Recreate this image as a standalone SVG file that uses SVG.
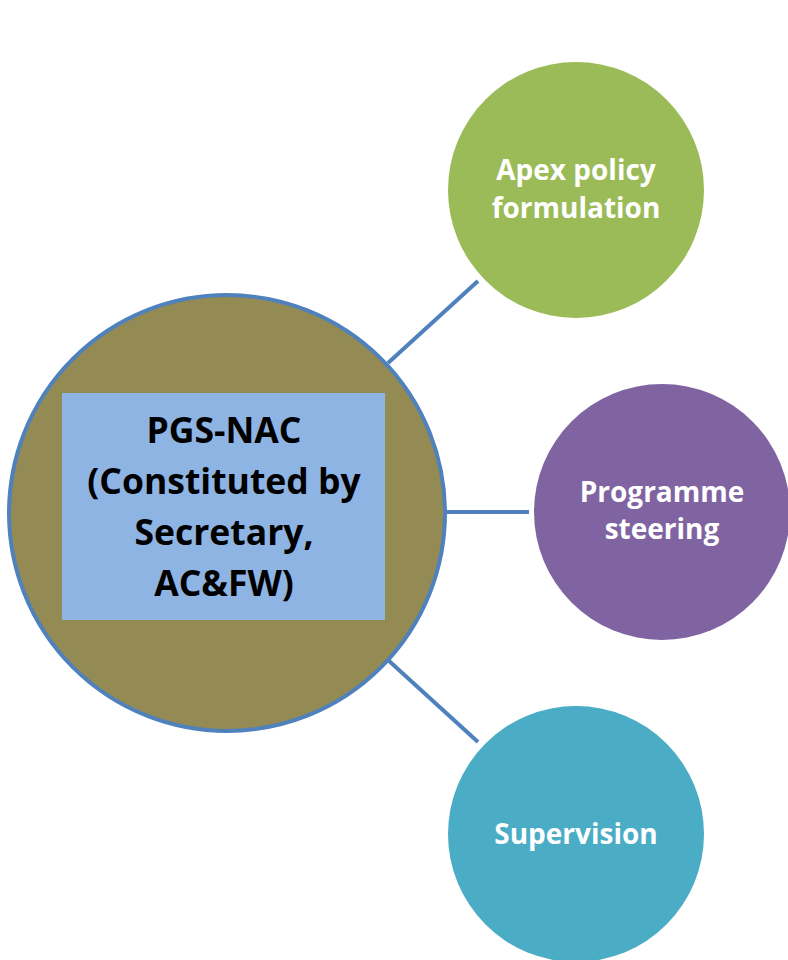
<svg xmlns="http://www.w3.org/2000/svg" width="788" height="960" viewBox="0 0 788 960">
<style>
.conn{stroke:#4f81bd;stroke-width:4;fill:none}
.lbl{font-family:"Open Sans","Liberation Sans",sans-serif;font-weight:bold;text-anchor:middle}
.w{fill:#ffffff;font-size:28px}
.k{fill:#000000;font-size:35.5px}
</style>
<rect x="0" y="0" width="788" height="960" fill="#ffffff"/>
<g id="connectors">
<line class="conn" x1="388" y1="363" x2="478" y2="281"/>
<line class="conn" x1="445" y1="512" x2="529" y2="512"/>
<line class="conn" x1="388" y1="660" x2="478" y2="742"/>
</g>
<g id="pgs-nac">
<circle cx="227" cy="513" r="218" fill="#948a54" stroke="#4f81bd" stroke-width="4"/>
<rect x="62" y="393" width="323" height="227" fill="#8eb4e3"/>
<text class="lbl k" x="224" y="443">PGS-NAC</text>
<text class="lbl k" x="224" y="494">(Constituted by</text>
<text class="lbl k" x="224" y="545">Secretary,</text>
<text class="lbl k" x="224" y="596">AC&amp;FW)</text>
</g>
<g id="apex">
<circle cx="576" cy="190" r="128" fill="#9bbb59"/>
<text class="lbl w" x="576" y="180">Apex policy</text>
<text class="lbl w" x="576" y="218">formulation</text>
</g>
<g id="programme">
<circle cx="662" cy="512" r="128" fill="#8064a2"/>
<text class="lbl w" x="662" y="502">Programme</text>
<text class="lbl w" x="662" y="539">steering</text>
</g>
<g id="supervision">
<circle cx="576" cy="834" r="128" fill="#4bacc6"/>
<text class="lbl w" x="576" y="844">Supervision</text>
</g>
</svg>
